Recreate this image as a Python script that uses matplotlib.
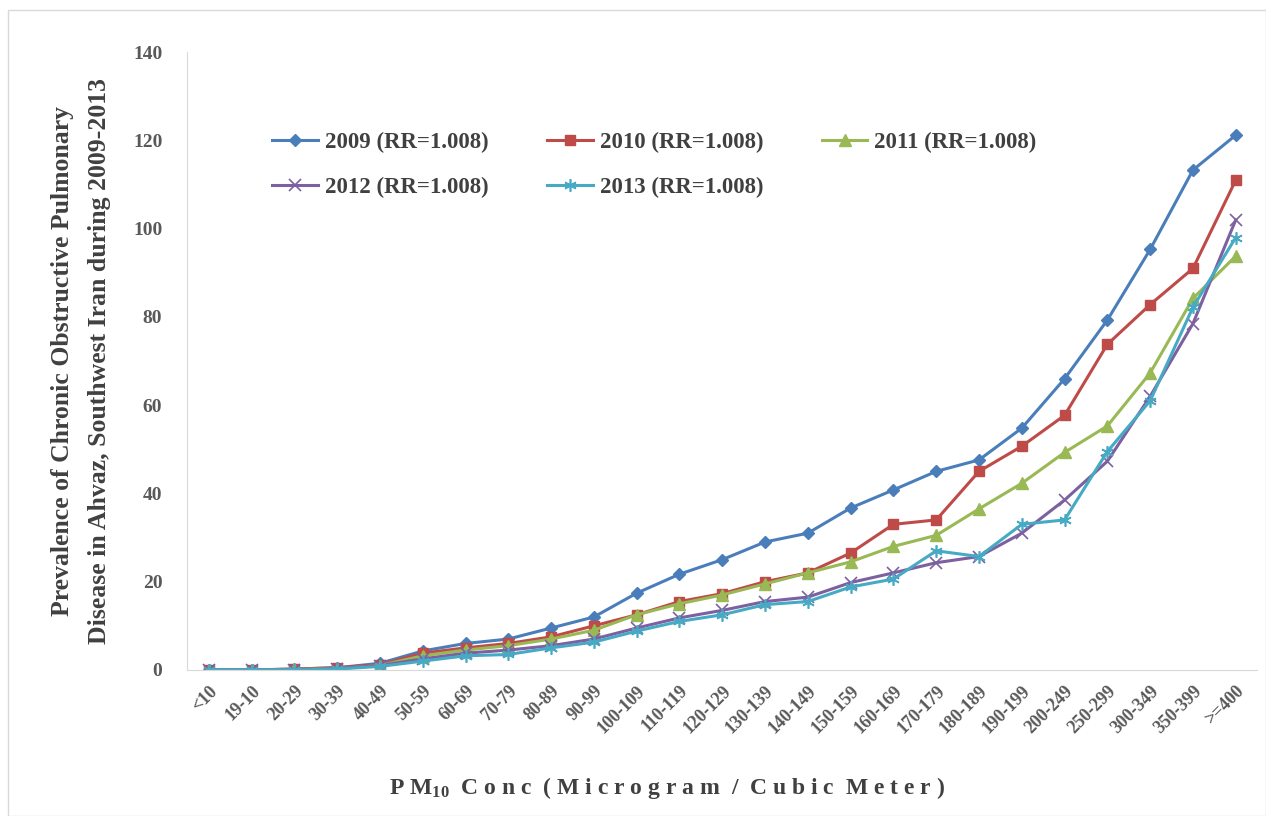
import matplotlib
matplotlib.use("Agg")
import matplotlib.pyplot as plt
from matplotlib.patches import Rectangle

categories = ["<10", "19-10", "20-29", "30-39", "40-49", "50-59", "60-69", "70-79",
              "80-89", "90-99", "100-109", "110-119", "120-129", "130-139", "140-149",
              "150-159", "160-169", "170-179", "180-189", "190-199", "200-249",
              "250-299", "300-349", "350-399", ">=400"]

y2009 = [0, 0, 0.2, 0.5, 1.5, 4.3, 6.0, 7.0, 9.5, 12.0, 17.4, 21.7, 25.0, 29.0, 31.0,
         36.7, 40.8, 45.0, 47.6, 54.8, 66.0, 79.3, 95.3, 113.3, 121.2]
y2010 = [0, 0, 0.2, 0.5, 1.2, 3.8, 5.0, 6.0, 7.5, 10.0, 12.5, 15.5, 17.3, 20.0, 22.0,
         26.5, 33.0, 34.0, 45.0, 50.7, 57.7, 73.8, 82.8, 91.0, 111.0]
y2011 = [0, 0, 0.1, 0.3, 1.0, 3.2, 4.5, 5.5, 7.0, 9.0, 12.5, 15.0, 17.0, 19.5, 22.0,
         24.5, 28.0, 30.5, 36.5, 42.3, 49.3, 55.3, 67.3, 84.2, 93.8]
y2012 = [0, 0, 0, 0.3, 1.0, 2.5, 3.8, 4.5, 5.5, 7.0, 9.5, 11.8, 13.5, 15.5, 16.5,
         19.8, 22.0, 24.3, 25.7, 31.0, 38.5, 47.3, 62.0, 78.5, 102.0]
y2013 = [0, 0, 0, 0.2, 0.8, 2.0, 3.2, 3.5, 5.0, 6.3, 8.8, 11.0, 12.5, 14.8, 15.5,
         18.8, 20.6, 27.0, 25.7, 33.0, 34.0, 49.5, 61.0, 82.2, 98.0]

labels = ["2009 (RR=1.008)", "2010 (RR=1.008)", "2011 (RR=1.008)",
          "2012 (RR=1.008)", "2013 (RR=1.008)"]

plt.rcParams["font.family"] = "Liberation Serif"
plt.rcParams["font.weight"] = "bold"
plt.rcParams["mathtext.default"] = "regular"

fig = plt.figure(figsize=(12.66, 8.16), dpi=100)
ax = fig.add_axes([0.148, 0.179, 0.845, 0.757])

# thin frame around the whole picture
fig.patches.append(Rectangle((0.006, 0.0), 0.994, 0.988, transform=fig.transFigure,
                             fill=False, edgecolor="#d9d9d9", linewidth=1))

x = list(range(len(categories)))
series = [y2009, y2010, y2011, y2012, y2013]
colors = ["#4a7ebb", "#be4b48", "#98b954", "#7d60a0", "#46aac5"]
markers = ["D", "s", "^", "x", (6, 2, 0)]
sizes = [6.5, 7.5, 8, 8, 9]

lines = []
for ys, c, m, ms, lab in zip(series, colors, markers, sizes, labels):
    ln, = ax.plot(x, ys, color=c, marker=m, markersize=ms, linewidth=2.2, label=lab,
                  markeredgewidth=1.2 if m in ("x", (6, 2, 0)) else 1)
    lines.append(ln)

ax.set_xlim(-0.5, len(categories) - 0.5)
ax.set_ylim(0, 140)
ax.set_yticks(range(0, 141, 20))
ax.set_xticks(x)
ax.set_xticklabels(categories, rotation=45, ha="right", rotation_mode="anchor")
ax.tick_params(axis="both", length=0, colors="#595959")
ax.tick_params(axis="y", pad=18, labelsize=14)
ax.tick_params(axis="x", pad=9, labelsize=13)
for lab in ax.get_xticklabels() + ax.get_yticklabels():
    lab.set_fontweight("bold")

ax.spines["top"].set_visible(False)
ax.spines["right"].set_visible(False)
ax.spines["left"].set_color("#d9d9d9")
ax.spines["bottom"].set_color("#d9d9d9")

# legend fills column by column, so reorder to read row by row
order = [0, 3, 1, 4, 2]
leg = ax.legend([lines[i] for i in order], [labels[i] for i in order],
                ncol=3, loc="upper left", bbox_to_anchor=(0.06, 0.905), frameon=False,
                fontsize=16.5, handlelength=2.0, columnspacing=2.55, labelspacing=1.05,
                handletextpad=0.3)
for t in leg.get_texts():
    t.set_color("#404040")
    t.set_fontweight("bold")

ax.set_ylabel("Prevalence of Chronic Obstructive Pulmonary\nDisease in Ahvaz, Southwest Iran during 2009-2013",
              fontsize=18.5, fontweight="bold", color="#404040", labelpad=16, linespacing=1.75)
fig.text(0.527, 0.027, r"P M$_{10}$  C o n c  ( M i c r o g r a m  /  C u b i c  M e t e r )",
         ha="center", fontsize=17, fontweight="bold", color="#404040")

fig.savefig("out.png", dpi=100)
